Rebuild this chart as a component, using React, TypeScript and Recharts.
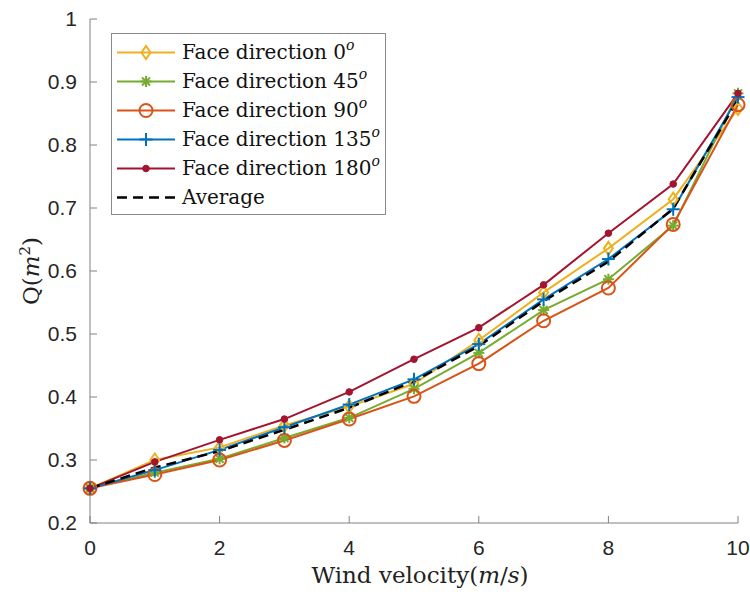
import React from "react";
import { LineChart, Line, XAxis, YAxis, Label } from "recharts";

// wind velocity (m/s)
const velocity = [0, 1, 2, 3, 4, 5, 6, 7, 8, 9, 10];

// Q (m^2) for each face direction
const dir0 = [0.255, 0.3, 0.32, 0.355, 0.385, 0.421, 0.49, 0.566, 0.636, 0.714, 0.858];
const dir45 = [0.255, 0.28, 0.302, 0.335, 0.367, 0.413, 0.47, 0.538, 0.587, 0.672, 0.882];
const dir90 = [0.255, 0.277, 0.3, 0.331, 0.365, 0.401, 0.453, 0.521, 0.573, 0.674, 0.864];
const dir135 = [0.255, 0.284, 0.316, 0.352, 0.388, 0.428, 0.484, 0.555, 0.619, 0.698, 0.876];
const dir180 = [0.255, 0.297, 0.332, 0.365, 0.408, 0.46, 0.51, 0.578, 0.66, 0.738, 0.882];
const average = [0.255, 0.288, 0.314, 0.348, 0.383, 0.425, 0.481, 0.552, 0.615, 0.699, 0.872];

const xTicks = [0, 2, 4, 6, 8, 10];
const yTicks = [0.2, 0.3, 0.4, 0.5, 0.6, 0.7, 0.8, 0.9, 1];

const data = velocity.map((v, i) => ({
  v,
  d0: dir0[i],
  d45: dir45[i],
  d90: dir90[i],
  d135: dir135[i],
  d180: dir180[i],
  avg: average[i],
}));

const YELLOW = "#EDB120";
const GREEN = "#77AC30";
const ORANGE = "#D95319";
const BLUE = "#0072BD";
const RED = "#A2142F";
const AXIS = "#808080";
const SERIF = "'DejaVu Serif', 'Liberation Serif', serif";
const SANS = "'Liberation Sans', Arial, sans-serif";

type MarkProps = { cx?: number; cy?: number; color: string };

const Diamond = ({ cx = 0, cy = 0, color }: MarkProps) => (
  <path
    d={`M${cx},${cy - 6.5}L${cx + 4.5},${cy}L${cx},${cy + 6.5}L${cx - 4.5},${cy}Z`}
    fill="none"
    stroke={color}
    strokeWidth={2}
  />
);

const Star = ({ cx = 0, cy = 0, color }: MarkProps) => (
  <g stroke={color} strokeWidth={2}>
    <line x1={cx - 5.5} y1={cy} x2={cx + 5.5} y2={cy} />
    <line x1={cx} y1={cy - 5.5} x2={cx} y2={cy + 5.5} />
    <line x1={cx - 4} y1={cy - 4} x2={cx + 4} y2={cy + 4} />
    <line x1={cx - 4} y1={cy + 4} x2={cx + 4} y2={cy - 4} />
  </g>
);

const Ring = ({ cx = 0, cy = 0, color }: MarkProps) => (
  <circle cx={cx} cy={cy} r={6.5} fill="none" stroke={color} strokeWidth={2} />
);

const Plus = ({ cx = 0, cy = 0, color }: MarkProps) => (
  <g stroke={color} strokeWidth={2}>
    <line x1={cx - 6.5} y1={cy} x2={cx + 6.5} y2={cy} />
    <line x1={cx} y1={cy - 6.5} x2={cx} y2={cy + 6.5} />
  </g>
);

const Dot = ({ cx = 0, cy = 0, color }: MarkProps) => (
  <circle cx={cx} cy={cy} r={3.3} fill={color} stroke={color} />
);

const series = [
  { key: "d0", label: "0", color: YELLOW, Mark: Diamond },
  { key: "d45", label: "45", color: GREEN, Mark: Star },
  { key: "d90", label: "90", color: ORANGE, Mark: Ring },
  { key: "d135", label: "135", color: BLUE, Mark: Plus },
  { key: "d180", label: "180", color: RED, Mark: Dot },
];

const LegendBox = () => (
  <div
    style={{
      position: "absolute",
      left: 111,
      top: 33,
      width: 273,
      height: 180,
      border: "1px solid #8a8a8a",
      background: "#fff",
      fontFamily: SERIF,
      fontSize: 20,
      color: "#111",
    }}
  >
    {series.map((s, i) => (
      <div key={s.key} style={{ position: "absolute", left: 0, top: 4 + i * 29, height: 29, width: 273 }}>
        <svg width={66} height={29} style={{ position: "absolute", left: 0, top: 0 }}>
          <line x1={5} y1={14.5} x2={63} y2={14.5} stroke={s.color} strokeWidth={2} />
          <s.Mark cx={34} cy={14.5} color={s.color} />
        </svg>
        <span style={{ position: "absolute", left: 70, top: 0, lineHeight: "29px", whiteSpace: "nowrap" }}>
          Face direction {s.label}
          <span style={{ fontStyle: "italic", fontSize: 14, position: "relative", top: -9 }}>o</span>
        </span>
      </div>
    ))}
    <div style={{ position: "absolute", left: 0, top: 4 + 5 * 29, height: 29, width: 273 }}>
      <svg width={66} height={29} style={{ position: "absolute", left: 0, top: 0 }}>
        <line x1={5} y1={14.5} x2={63} y2={14.5} stroke="#000" strokeWidth={2.5} strokeDasharray="10 6" />
      </svg>
      <span style={{ position: "absolute", left: 70, top: 0, lineHeight: "29px" }}>Average</span>
    </div>
  </div>
);

const XLabel = ({ viewBox }: any) => {
  const cx = viewBox.x + viewBox.width / 2;
  return (
    <text x={cx + 6} y={583} textAnchor="middle" fontFamily={SERIF} fontSize={23} fill="#222">
      Wind velocity(<tspan fontStyle="italic">m</tspan>/<tspan fontStyle="italic">s</tspan>)
    </text>
  );
};

const YLabel = ({ viewBox }: any) => {
  const cy = viewBox.y + viewBox.height / 2;
  return (
    <text
      x={0}
      y={0}
      transform={`translate(39, ${cy}) rotate(-90)`}
      textAnchor="middle"
      fontFamily={SERIF}
      fontSize={23}
      fill="#222"
    >
      Q(<tspan fontStyle="italic">m</tspan>
      <tspan fontSize={15} dy={-9}>2</tspan>
      <tspan dy={9}>)</tspan>
    </text>
  );
};

export default function App() {
  return (
    <div style={{ position: "absolute", left: 0, top: 0, width: 750, height: 594, background: "#fff" }}>
      <LineChart width={750} height={594} data={data} margin={{ top: 19, right: 12, left: 0, bottom: 0 }}>
        <XAxis
          dataKey="v"
          type="number"
          domain={[0, 10]}
          ticks={xTicks}
          height={71}
          stroke={AXIS}
          tickSize={-7}
          tickMargin={24}
          tick={{ fill: "#262626", fontFamily: SANS, fontSize: 21 }}
        >
          <Label content={XLabel} />
        </XAxis>
        <YAxis
          type="number"
          domain={[0.2, 1]}
          ticks={yTicks}
          width={90}
          stroke={AXIS}
          tickSize={-7}
          tickMargin={20}
          tick={{ fill: "#262626", fontFamily: SANS, fontSize: 21 }}
          tickFormatter={(t: number) => String(Math.round(t * 10) / 10)}
        >
          <Label content={YLabel} />
        </YAxis>
        {series.map((s) => (
          <Line
            key={s.key}
            dataKey={s.key}
            stroke={s.color}
            strokeWidth={2}
            isAnimationActive={false}
            dot={(p: any) => <s.Mark key={`${s.key}-${p.index}`} cx={p.cx} cy={p.cy} color={s.color} />}
            activeDot={false}
          />
        ))}
        <Line
          dataKey="avg"
          stroke="#000"
          strokeWidth={2.5}
          strokeDasharray="10 6"
          dot={false}
          activeDot={false}
          isAnimationActive={false}
        />
      </LineChart>
      <LegendBox />
    </div>
  );
}
